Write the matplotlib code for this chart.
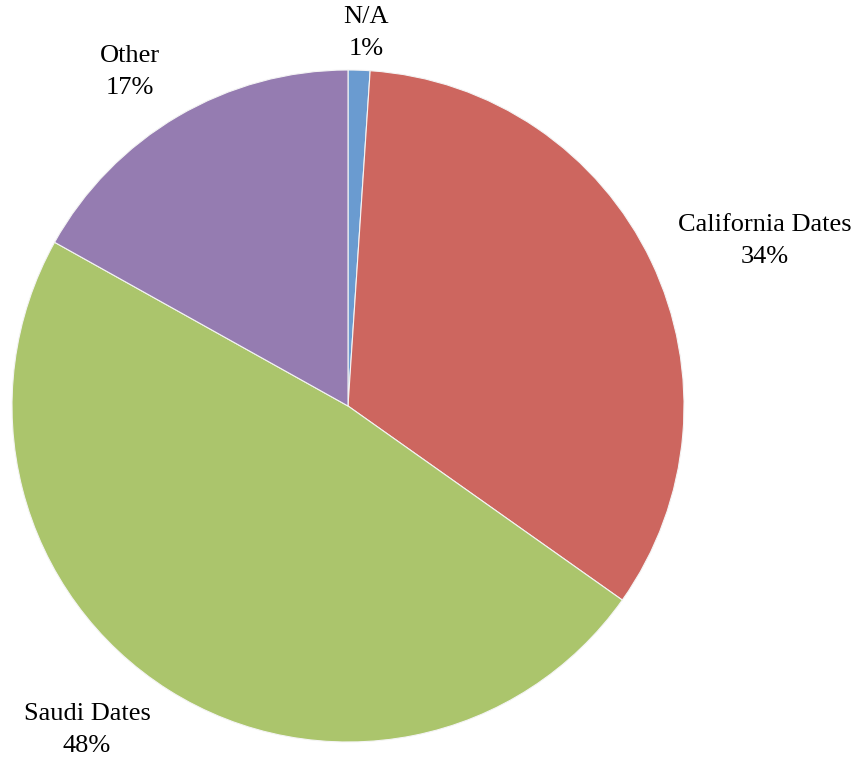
import matplotlib
matplotlib.use('Agg')
import matplotlib.pyplot as plt

# share of responses by date type
labels = ['N/A', 'California Dates', 'Saudi Dates', 'Other']
values = [1.05, 33.75, 48.3, 16.9]
colors = ['#6A9BD0', '#CD665F', '#ABC56C', '#957CB1']
pct_labels = ['1%', '34%', '48%', '17%']
label_pos = [(366, 33), (765, 241), (87, 730), (130, 72)]

plt.rcParams['font.family'] = ['Liberation Serif', 'DejaVu Serif']

fig = plt.figure(figsize=(8.57, 7.59), dpi=100)
ax = fig.add_axes([0, 0, 1, 1])

# y axis is inverted, so counterclock=True draws clockwise on screen
ax.pie(values, colors=colors, startangle=-90, counterclock=True,
       center=(348, 406), radius=336, frame=True,
       wedgeprops={'edgecolor': '#F4F4F4', 'linewidth': 0.8})
ax.set_xlim(0, 857)
ax.set_ylim(759, 0)
ax.set_aspect('equal')
ax.axis('off')

for lab, pct, (x, y) in zip(labels, pct_labels, label_pos):
    ax.text(x, y, lab + '\n' + pct, ha='center', va='center',
            fontsize=19, linespacing=1.6, color='black')

fig.savefig('out.png', dpi=100)
